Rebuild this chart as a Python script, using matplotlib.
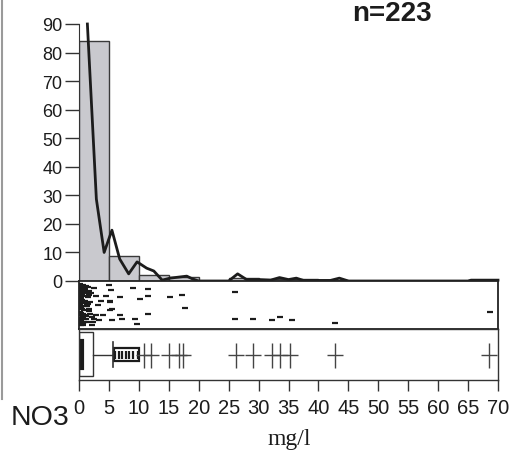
import matplotlib
matplotlib.use("Agg")
import matplotlib.pyplot as plt
from matplotlib.patches import Rectangle
from matplotlib.lines import Line2D

# histogram (5 mg/l bins), percent
bin_edges = [0, 5, 10, 15, 20, 25, 30, 35, 40, 45, 50, 55, 60, 65, 70]
bin_heights = [84, 8.9, 2.1, 1.4, 0, 1.0, 0.6, 0.6, 0.4, 0, 0, 0, 0, 0.3]

# frequency polygon
poly_x = [1.4, 2.9, 4.2, 5.5, 6.8, 8.3, 9.7, 11.3, 12.5, 13.9, 15.2, 18, 19, 20,
          25, 26.5, 28, 30, 32, 33.5, 35, 36.3, 37.5, 42, 43.5, 45, 65, 65.5, 70]
poly_y = [90, 28.7, 10, 17.8, 7.7, 2.5, 6.7, 4.5, 3.5, 0.3, 1.0, 1.7, 0.7, 0,
          0, 2.5, 0.5, 0.5, 0.3, 1.2, 0.5, 1.0, 0.2, 0.2, 1.0, 0, 0, 0.3, 0.3]

# one-dimensional scatter (value, jitter position)
strip_x = [0.1, 0.2, 0.1, 0.3, 0.2, 0.4, 0.1, 0.3, 0.5, 0.2, 0.6, 0.1, 0.4, 0.7, 0.2,
           0.3, 0.8, 0.1, 0.5, 0.9, 0.2, 0.6, 1.0, 0.3, 0.1, 0.7, 1.1, 0.4, 0.2, 0.8,
           1.2, 0.5, 0.1, 0.9, 1.3, 0.3, 0.6, 1.4, 0.2, 1.0, 0.4, 1.5, 0.7, 0.1, 1.1,
           1.6, 0.3, 0.8, 1.7, 0.5, 1.2, 1.8, 0.2, 1.9, 0.6, 2.0, 1.3, 2.2, 0.9, 2.4,
           1.45, 2.5, 1.7, 2.8, 4.5, 1.5, 3.1, 1.7, 2.8, 1.2, 2.5, 3.3, 2.1, 3.6, 4.0,
           5.0, 5.3, 5.2, 5.5, 9.0, 11.5, 6.8, 10.2, 11.5, 15.2, 17.2, 17.7, 5.2, 5.2,
           6.8, 11.5, 7.2, 9.4, 9.7, 5.5, 26.1, 26.1, 29.1, 32.2, 33.6, 35.6, 42.8, 68.7]
strip_y = [0.95, 0.88, 0.80, 0.92, 0.72, 0.85, 0.64, 0.58, 0.76, 0.50, 0.90, 0.43, 0.66,
           0.82, 0.35, 0.28, 0.55, 0.20, 0.40, 0.70, 0.12, 0.30, 0.60, 0.05, 0.97, 0.22,
           0.47, 0.15, 0.62, 0.38, 0.78, 0.08, 0.74, 0.26, 0.10, 0.44, 0.96, 0.52, 0.18,
           0.86, 0.32, 0.68, 0.04, 0.54, 0.24, 0.83, 0.68, 0.12, 0.40, 0.62, 0.94, 0.30,
           0.46, 0.58, 0.08, 0.78, 0.48, 0.22, 0.90, 0.10, 0.92, 0.89, 0.74, 0.70, 0.70,
           0.53, 0.49, 0.36, 0.28, 0.17, 0.17, 0.15, 0.04, 0.60, 0.26, 0.96, 0.85, 0.57,
           0.15, 0.89, 0.87, 0.68, 0.64, 0.70, 0.68, 0.74, 0.43, 0.38, 0.60, 0.28, 0.30,
           0.17, 0.17, 0.06, 0.40, 0.79, 0.17, 0.17, 0.15, 0.23, 0.15, 0.09, 0.34]

# box plot
box_q1, box_med, box_q3 = 0.0, 0.5, 2.3
whisker_hi = 5.7
near_out = [6.0, 6.6, 7.2, 7.8, 8.4, 9.0, 9.8]
far_out = [10.9, 12.0, 15.0, 16.7, 17.4, 26.2, 29.0, 32.2, 33.5, 35.3, 42.7, 68.5]

x_ticks = list(range(0, 75, 5))
y_ticks = list(range(0, 100, 10))

ink = "#1c1c1c"
sans = ["Liberation Sans", "DejaVu Sans"]

fig = plt.figure(figsize=(5.12, 4.52), dpi=100)
fig.patch.set_facecolor("white")

W, H = 512.0, 452.0
x0, x1 = 79, 498
ax_h = fig.add_axes([x0 / W, (H - 282) / H, (x1 - x0) / W, (282 - 25) / H])
ax_s = fig.add_axes([x0 / W, (H - 330) / H, (x1 - x0) / W, 48 / H])
ax_b = fig.add_axes([x0 / W, (H - 381) / H, (x1 - x0) / W, 51 / H])

# --- histogram ---
widths = [bin_edges[i + 1] - bin_edges[i] for i in range(len(bin_heights))]
ax_h.bar(bin_edges[:-1], bin_heights, width=widths, align="edge",
         color="#c9c9ce", edgecolor="#3a3a3a", linewidth=1.0)
ax_h.plot(poly_x, poly_y, color=ink, lw=2.0, clip_on=False)
ax_h.set_xlim(0, 70)
ax_h.set_ylim(0, 90)
for s in ["top", "right", "bottom"]:
    ax_h.spines[s].set_visible(False)
ax_h.spines["left"].set_color("#333333")
ax_h.set_xticks([])
ax_h.set_yticks(y_ticks)
ax_h.tick_params(axis="y", direction="out", length=10, width=1, pad=2,
                 colors="#333333", labelcolor=ink)
for lab in ax_h.get_yticklabels():
    lab.set_family(sans)
    lab.set_fontsize(13)

# --- strip ---
ax_s.plot(strip_x, strip_y, linestyle="none", marker="_", markersize=4.5,
          markeredgewidth=1.6, color=ink)
ax_s.set_xlim(0, 70)
ax_s.set_ylim(-0.05, 1.05)
ax_s.set_xticks([])
ax_s.set_yticks([])
for s in ax_s.spines.values():
    s.set_linewidth(1.3)
    s.set_color("#222222")

# --- box plot ---
ax_b.set_xlim(0, 70)
ax_b.set_ylim(0, 1)
ax_b.add_patch(Rectangle((box_q1, 0.08), box_q3 - box_q1, 0.86, fill=False,
                         edgecolor="#333333", lw=1.0))
ax_b.plot([box_med, box_med], [0.24, 0.76], color=ink, lw=3)
ax_b.plot([box_q3, whisker_hi], [0.5, 0.5], color="#333333", lw=1)
ax_b.plot([whisker_hi, whisker_hi], [0.26, 0.74], color="#333333", lw=1.2)
ax_b.add_patch(Rectangle((min(near_out) - 0.2, 0.38), max(near_out) - min(near_out) + 0.4,
                         0.24, fill=False, edgecolor=ink, lw=1.6))
ax_b.plot(near_out, [0.5] * len(near_out), linestyle="none", marker="|",
          markersize=6, markeredgewidth=1.6, color=ink)
ax_b.plot(far_out, [0.5] * len(far_out), linestyle="none", marker="|",
          markersize=18, markeredgewidth=1.0, color="#444444")
ax_b.plot(far_out, [0.5] * len(far_out), linestyle="none", marker="_",
          markersize=11.5, markeredgewidth=1.0, color="#444444")
ax_b.set_yticks([])
ax_b.set_xticks(x_ticks)
ax_b.set_xticklabels([str(t) for t in x_ticks])
ax_b.tick_params(axis="x", direction="out", length=8, width=1, pad=5,
                 colors="#333333", labelcolor=ink)
for lab in ax_b.get_xticklabels():
    lab.set_family(sans)
    lab.set_fontsize(14.5)
for s in ax_b.spines.values():
    s.set_linewidth(1.0)
    s.set_color("#333333")

# --- texts ---
fig.text(11 / W, (H - 425) / H, "NO3", family=sans, fontsize=20.5,
         color=ink, ha="left", va="baseline")
fig.text(289 / W, (H - 445) / H, "mg/l", family=["Liberation Serif", "DejaVu Serif"],
         fontsize=17, color=ink, ha="center", va="baseline")
fig.text(392 / W, (H - 21) / H, "n=223", family=sans, fontweight="bold",
         fontsize=20, color=ink, ha="center", va="baseline")

fig.add_artist(Line2D([1.5 / W, 1.5 / W], [(H - 400) / H, 1.0], color="#9a9a9a", lw=1.5))

fig.savefig("out.png", dpi=100)
